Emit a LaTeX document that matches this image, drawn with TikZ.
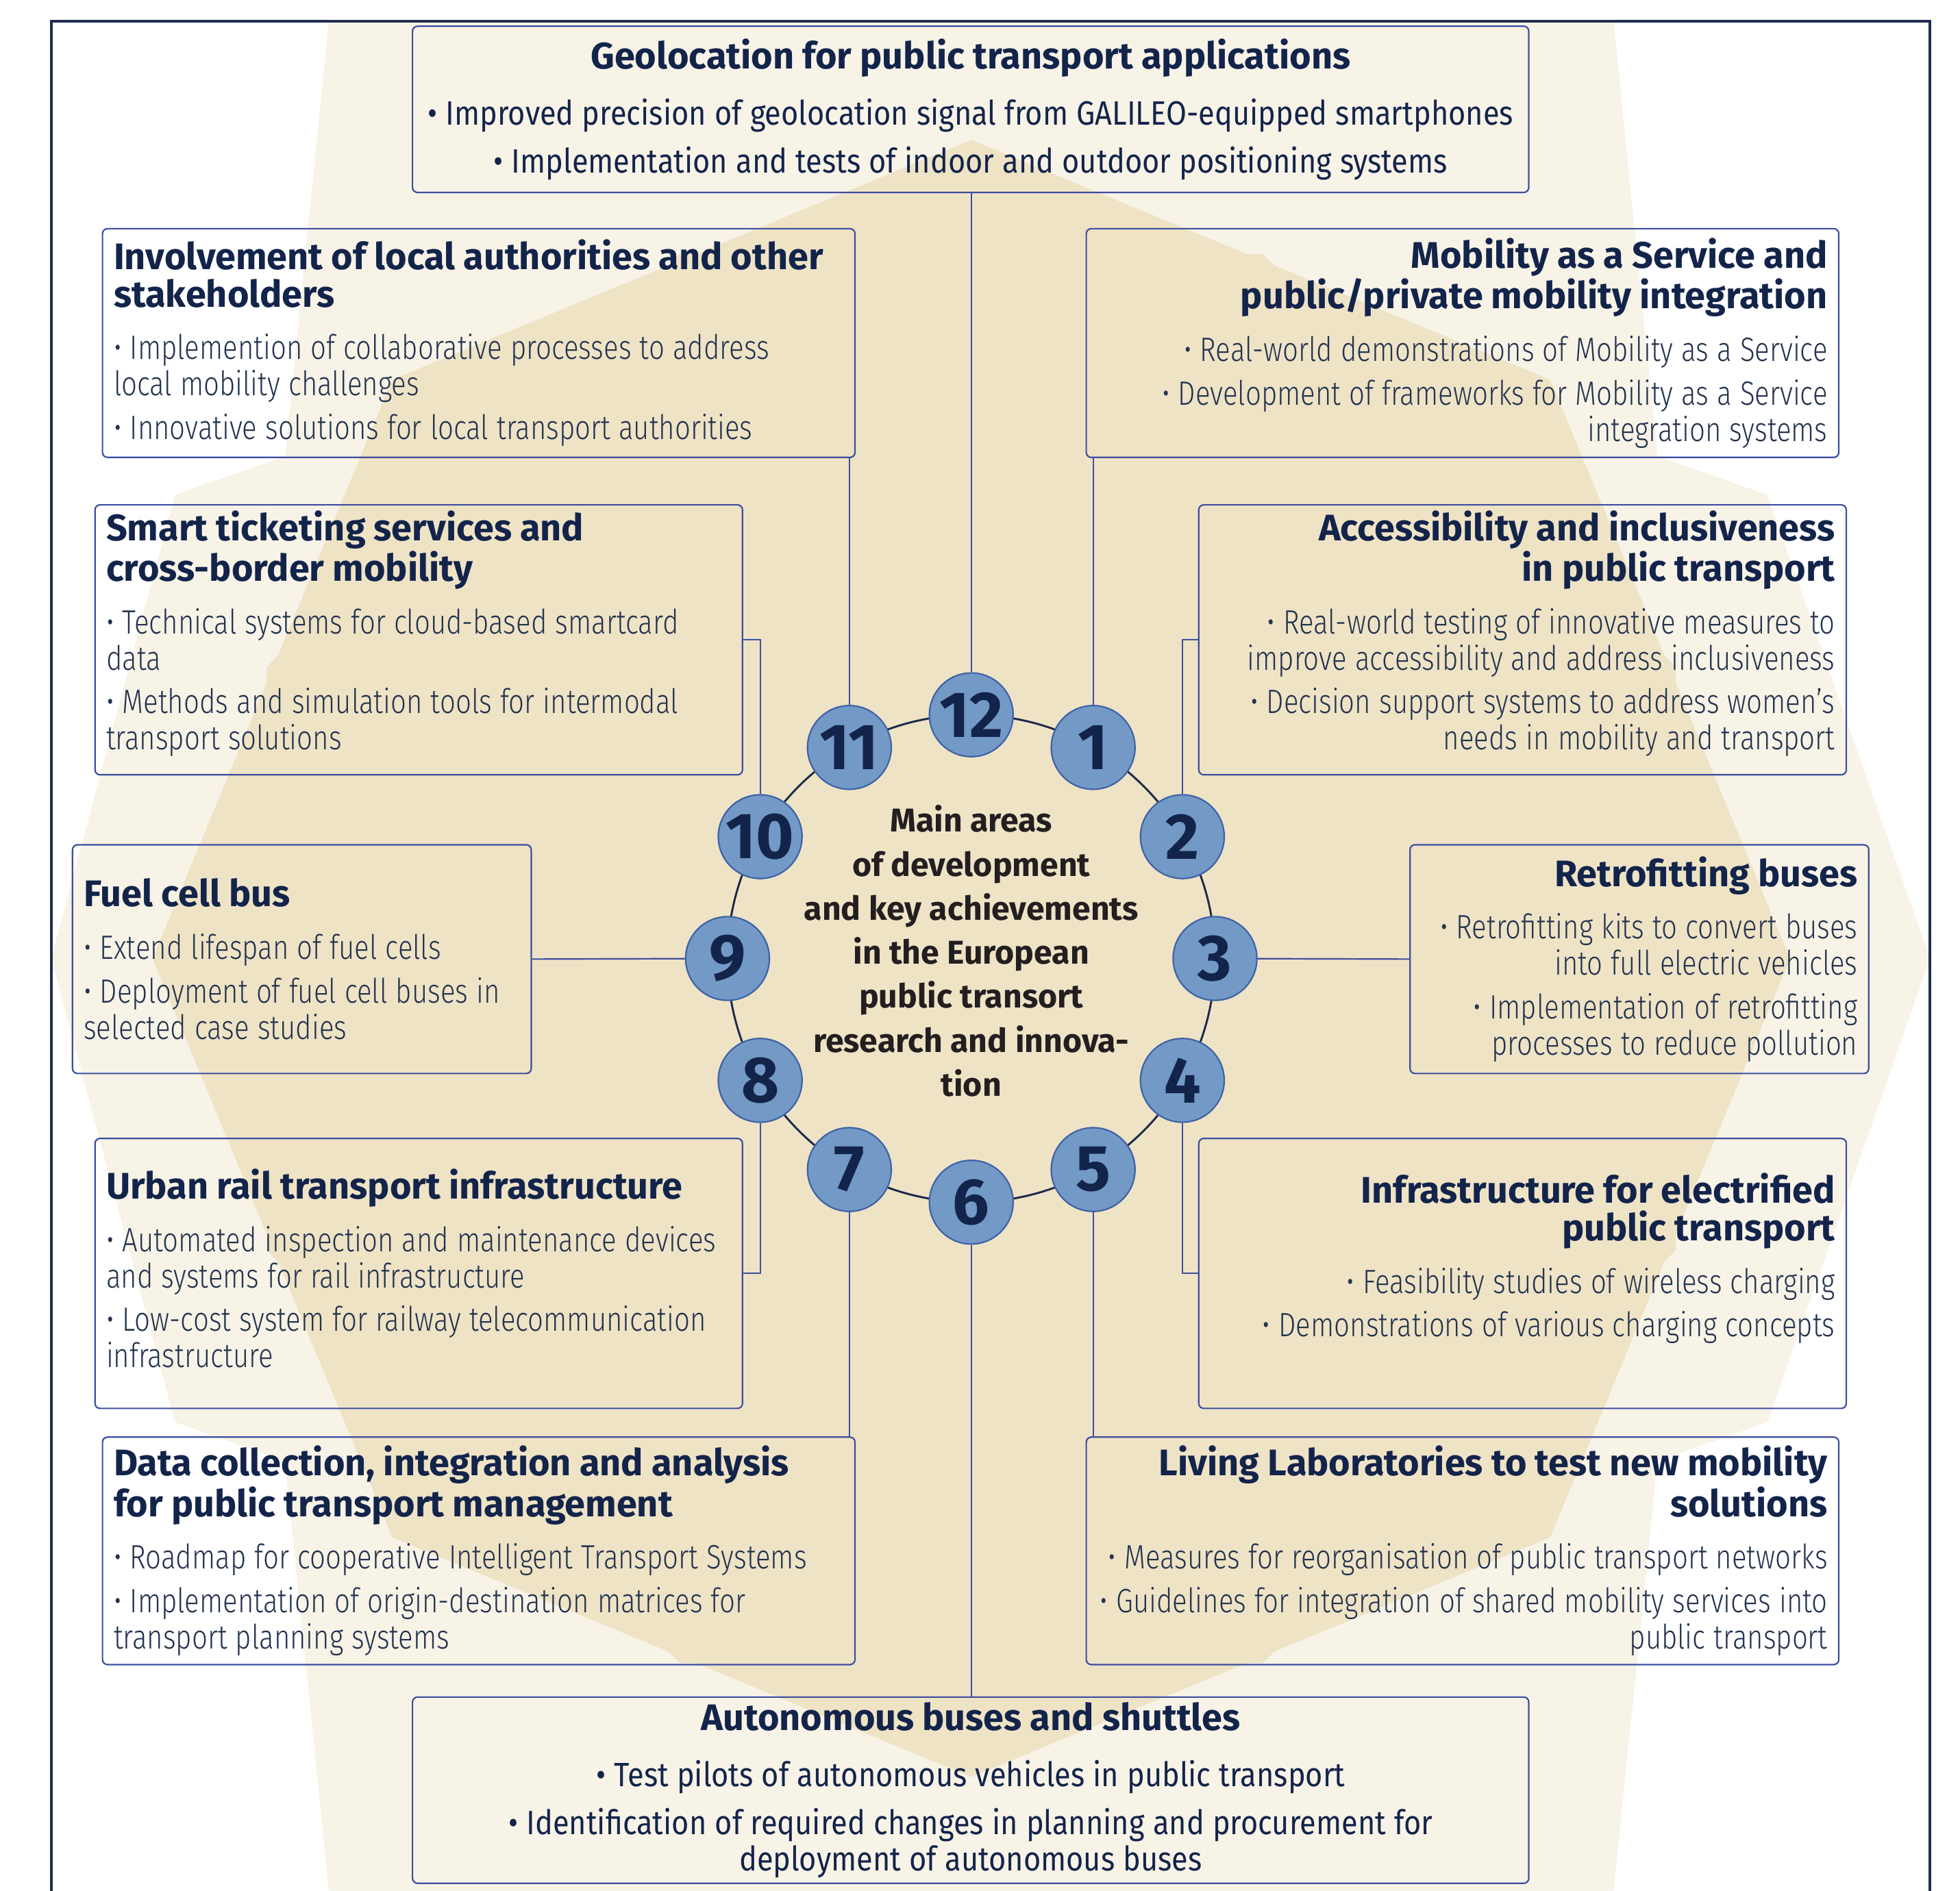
\documentclass[tikz,border=0pt]{standalone}
\usepackage{fontspec}
\setmainfont{Fira Sans}
\newfontfamily\bodyfont{Fira Sans}[FakeStretch=0.88]
\newfontfamily\itemfont{Fira Sans Light}[FakeStretch=0.815]
\usepackage{xcolor}

\definecolor{navy}{HTML}{13244B}
\definecolor{slate}{HTML}{24344F}
\definecolor{boxblue}{HTML}{3D4FA0}
\definecolor{numblue}{HTML}{7399C6}
\definecolor{numedge}{HTML}{3F62A6}
\definecolor{ringcol}{HTML}{1C2A48}
\definecolor{framecol}{HTML}{1F2D4D}
\definecolor{lightbeige}{HTML}{F8F3E7}
\definecolor{darkbeige}{HTML}{EFE3C6}
\definecolor{hubtext}{HTML}{231F20}

\newcommand{\boxhead}[1]{{\bfseries\fontsize{14.8}{15}\selectfont\color{navy}#1\par}\vspace{3.5pt}}
\newcommand{\boxitem}[1]{\vspace{3pt}{\itemfont\fontsize{13.5}{14.5}\selectfont\color{slate}\textbullet~#1\par}}
\newcommand{\boxitemb}[1]{\vspace{4.5pt}{\bodyfont\fontsize{13.5}{14.5}\selectfont\color{navy}\textbullet~#1\par}}
\newcommand{\boxtail}[1]{\par\vspace{#1}\hrule height 0pt}

\tikzset{
  box/.style={draw=boxblue, line width=0.6pt, rounded corners=2pt, inner xsep=4.5pt, inner ysep=2pt},
  boxl/.style={box, align=left},
  boxr/.style={box, align=right},
  boxc/.style={box, align=center},
  num/.style={circle, draw=numedge, line width=0.6pt, fill=numblue, minimum size=33.5pt, inner sep=0pt,
    font=\bfseries\fontsize{26}{26}\selectfont, text=navy},
  hub/.style={align=center, text=hubtext, font=\bfseries\fontsize{13.2}{17.6}\selectfont},
  link/.style={draw=boxblue, line width=0.6pt},
  ring/.style={draw=ringcol, line width=0.8pt},
  frame/.style={draw=framecol, line width=1pt}
}

\begin{document}
\begin{tikzpicture}[x=0.5pt, y=-0.5pt]
\useasboundingbox (0,0) rectangle (1568,1513);

\begin{scope}
  \clip (41,17) rectangle (1544,1513);
  \fill[lightbeige] (263,17) -- (1291,17) -- (1326,365) -- (1414,396) -- (1544,767) -- (1414,1138)
    -- (1326,1169) -- (1291,1513) -- (263,1513) -- (228,1169) -- (140,1138) -- (41,767)
    -- (140,396) -- (228,365) -- cycle;
  \fill[darkbeige] plot[samples at={0,45,...,315}, variable=\t] ({777+655*cos(\t)},{767+655*sin(\t)}) -- cycle;
  \fill[darkbeige] plot[samples at={22.5,67.5,...,337.5}, variable=\t] ({777+610*cos(\t)},{767+610*sin(\t)}) -- cycle;
\end{scope}
\draw[frame] (41,1513) -- (41,17) -- (1544,17) -- (1544,1513);

\node[boxc, text width=437.5pt, minimum height=66.5pt] (geo) at (776.5,87.5) {%
  \boxhead{Geolocation for public transport applications}
  \boxitemb{Improved precision of geolocation signal from GALILEO-equipped smartphones}
  \boxitemb{Implementation and tests of indoor and outdoor positioning systems}};
\node[boxl, text width=292pt, minimum height=91.5pt] (invol) at (383,274.5) {%
  \boxhead{Involvement of local authorities and other\\stakeholders}
  \boxitem{Implemention of collaborative processes to address\\local mobility challenges}
  \boxitem{Innovative solutions for local transport authorities}};
\node[boxr, text width=292pt, minimum height=91.5pt] (maas) at (1170,274.5) {%
  \boxhead{Mobility as a Service and\\public/private mobility integration}
  \boxitem{Real-world demonstrations of Mobility as a Service}
  \boxitem{Development of frameworks for Mobility as a Service\\integration systems}};
\node[boxl, text width=250pt, minimum height=108pt] (smart) at (335,512) {%
  \boxhead{Smart ticketing services and\\cross-border mobility}
  \boxitem{Technical systems for cloud-based smartcard\\data}
  \boxitem{Methods and simulation tools for intermodal\\transport solutions}\boxtail{5pt}};
\node[boxr, text width=250pt, minimum height=108pt] (access) at (1218,512) {%
  \boxhead{Accessibility and inclusiveness\\in public transport}
  \boxitem{Real-world testing of innovative measures to\\improve accessibility and address inclusiveness}
  \boxitem{Decision support systems to address women’s\\needs in mobility and transport}\boxtail{5pt}};
\node[boxl, text width=174.5pt, minimum height=91.5pt] (fuel) at (241.5,767.5) {%
  \boxhead{Fuel cell bus}
  \boxitem{Extend lifespan of fuel cells}
  \boxitem{Deployment of fuel cell buses in\\selected case studies}};
\node[boxr, text width=174.5pt, minimum height=91.5pt] (retro) at (1311.5,767.5) {%
  \boxhead{Retrofitting buses}
  \boxitem{Retrofitting kits to convert buses\\into full electric vehicles}
  \boxitem{Implementation of retrofitting\\processes to reduce pollution}};
\node[boxl, text width=250pt, minimum height=108pt] (urban) at (335,1019) {%
  \boxhead{Urban rail transport infrastructure}
  \boxitem{Automated inspection and maintenance devices\\and systems for rail infrastructure}
  \boxitem{Low-cost system for railway telecommunication\\infrastructure}\boxtail{4pt}};
\node[boxr, text width=250pt, minimum height=108pt] (infra) at (1218,1019) {%
  \boxhead{Infrastructure for electrified\\public transport}
  \boxitem{Feasibility studies of wireless charging}
  \boxitem{Demonstrations of various charging concepts}\boxtail{12pt}};
\node[boxl, text width=292pt, minimum height=91pt] (data) at (383,1241) {%
  \boxhead{Data collection, integration and analysis\\for public transport management}
  \boxitem{Roadmap for cooperative Intelligent Transport Systems}
  \boxitem{Implementation of origin-destination matrices for\\transport planning systems}};
\node[boxr, text width=292pt, minimum height=91pt] (living) at (1170,1241) {%
  \boxhead{Living Laboratories to test new mobility\\solutions}
  \boxitem{Measures for reorganisation of public transport networks}
  \boxitem{Guidelines for integration of shared mobility services into\\public transport}};
\node[boxc, text width=437.5pt, minimum height=74.5pt] (auto) at (776.5,1432.5) {%
  \boxhead{Autonomous buses and shuttles}
  \boxitemb{Test pilots of autonomous vehicles in public transport}
  \boxitemb{Identification of required changes in planning and procurement for\\deployment of autonomous buses}};

\draw[ring] (777,767) circle[radius=195];
\foreach \i in {1,...,12}
  \node[num] (c\i) at ({777+195*cos(30*\i-90)},{767+195*sin(30*\i-90)}) {\i};

\node[hub] (hubtext) at (777,761) {Main areas\\of development\\and key achievements\\in the European\\public transort\\research and innova-\\tion};

\draw[link] (c12) -- (c12 |- geo.south);
\draw[link] (c1) -- (c1 |- maas.south);
\draw[link] (c11) -- (c11 |- invol.south);
\draw[link] (c2) |- (access.west);
\draw[link] (c10) |- (smart.east);
\draw[link] (c3) -- (retro.west);
\draw[link] (c9) -- (fuel.east);
\draw[link] (c4) |- (infra.west);
\draw[link] (c8) |- (urban.east);
\draw[link] (c5) -- (c5 |- living.north);
\draw[link] (c7) -- (c7 |- data.north);
\draw[link] (c6) -- (c6 |- auto.north);
\end{tikzpicture}
\end{document}
